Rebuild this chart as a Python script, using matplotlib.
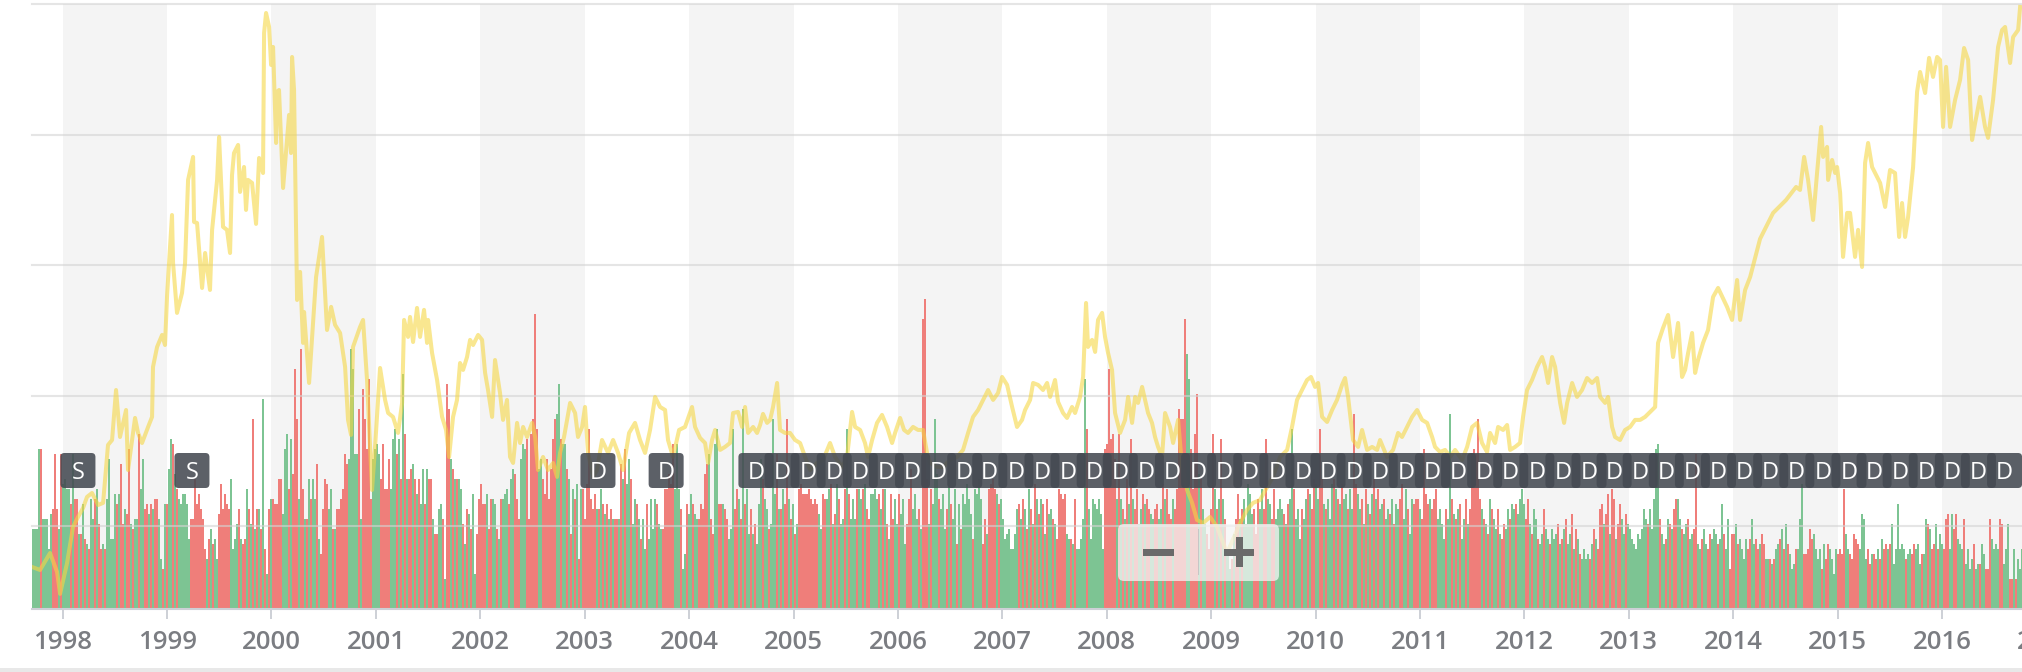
import matplotlib
matplotlib.use('Agg')
import matplotlib.pyplot as plt
from matplotlib.patches import FancyBboxPatch, Rectangle
from matplotlib.transforms import IdentityTransform

# weekly volume; negative = down week (red), positive = up week (green)
vol_1997_2000 = [16, 16, 16, 32, -32, 18, 18, 18, 12, 19,
                 -20, -31, -20, 16, -31, 25, 26, 24, 24, -21,
                 31, -22, -22, 15, -15, 21, -14, 13, -12, 22,
                 18, -22, 24, -17, -12, 13, -12, 22, 30, 14,
                 14, 23, -21, 23, -29, -17, 20, -19, -32, 17,
                 -16, 18, 18, -35, 24, 30, -20, -21, 19, -21,
                 20, -22, -22, 18, 10, -8, 21, -21, 28, 34,
                 -33, 27, -24, 22, 21, 23, 23, 21, 14, -18,
                 -18, -26, -21, -23, -20, -18, -12, 10, -14, 16,
                 -13, 14, 10, -19, -25, -20, -23, -21, -20, 26,
                 12, 14, 17, -20, 14, -13, -14, 24, -20, 17,
                 -38, 16, -20, 20, -16, 42, -12, 7, -20, 22,
                 -22, -21, -21, -26, -26, 19, 32, 35, -24, 34,
                 -27, -48, -38, 22, -52, -24, 18, -18, 26, -22,
                 26, 22, -29, 14, -11, -20, -26, -25, 20, 24,
                 -16, 16, -20, -20, -22, -24, -31, -29, 30, 52,
                 48, 31, 31, -40]
vol_2000_2004 = [18, -44, -38, -32, -46, -22, 30, 32, 33, 31,
                 -26, -33, -24, -24, -30, 24, 34, 36, -31, 34,
                 -26, 47, -35, 26, -26, -28, 29, -26, 23, -26,
                 21, 28, -21, 28, -26, -26, 18, -15, -15, 20,
                 21, -18, 6, -45, -40, 30, -28, 26, -26, 26,
                 24, -17, 13, -20, 19, -16, 23, 7, -15, -22,
                 -25, -21, -21, 23, -16, -22, 22, 21, -16, 14,
                 -22, 22, 23, 24, -21, 26, 28, -27, -22, -18,
                 30, 33, 32, -34, -18, -35, -38, -59, -36, 28,
                 30, -26, -23, -30, -22, -28, -34, -38, 39, 45,
                 -34, 33, 33, -28, 26, -15, 24, -22, 25, -10,
                 24, -24, -18, -25, -36, -22, -20, -23, 20, -20,
                 24, -21, 19, -21, 18, -20, 18, -18, -18, 18,
                 -29, 26, -32, 25, 30, -26, 17, 22, -21, 18,
                 -14, 18, 12, -21, 14, 22, 16, 22, -21, 17,
                 16, -16, -24, -24, -27, -25, -33, 24, 33, 24,
                 -20, 8, 11, -21, 19, 23, -21, 19, 18, -18]
vol_2004_2007 = [-21, -20, -27, -29, 31, -18, -15, 33, 36, -21,
                 -21, 21, -20, -18, 14, 16, 36, -20, -24, 22,
                 -18, 40, -21, 24, 15, -20, 15, -17, 13, 21,
                 30, -26, 22, 20, -16, 17, 38, 23, -31, 20,
                 -20, 24, -21, -38, 22, -18, 21, -15, 17, -24,
                 -25, -23, -23, -23, -24, -22, -21, -22, -21, 19,
                 16, -23, -22, 22, 24, -25, 17, -19, 25, -22,
                 17, 18, -24, 36, -23, 18, 22, 18, -24, 24,
                 22, -24, 25, -20, -18, 23, 23, 24, 22, -23,
                 20, -24, 24, -17, 14, -23, -18, 22, 17, -23,
                 19, 22, 13, -17, -22, -28, 20, 23, 18, -20,
                 16, -58, -62, -26, 17, -24, 21, 38, 27, -22,
                 20, 23, 16, -20, 26, -21, 18, 24, -13, 21,
                 -16, 23, 21, 25, 22, 19, -14, 24, 23, 26,
                 22, -13, -18, 15, -24, -25, -26, -24, 23, -21,
                 22, 18, 14, 15, 16, 12, 12, 15, 20, -21,
                 18, -22, 20, -16, 24, -20, 17, -25, 22, -19]
vol_2007_2010 = [22, -21, 15, -22, 19, 20, -18, 17, -14, -24,
                 -23, -22, -23, 15, 14, -14, 13, -22, 12, 12,
                 14, 18, 46, -36, 20, 14, 22, 21, 20, 22,
                 19, 12, -32, -33, -48, -34, -35, -30, 22, -35,
                 22, -20, 18, -26, 21, -34, 22, -20, -24, 17,
                 20, -23, 21, -22, -20, 19, 18, -20, -21, 18,
                 20, -25, 22, -24, -19, -18, 22, -20, -24, -40,
                 -38, -38, -58, 51, 46, -32, -24, -35, -43, 27,
                 -26, 20, 17, -15, -12, -20, -35, 24, -20, 22,
                 -34, 22, -18, 12, 8, -10, 15, -18, -23, 18,
                 -20, 22, 17, 25, 23, 19, -20, -15, -22, 20,
                 24, -20, -34, 22, 21, -18, -24, 18, 20, 22,
                 20, -19, 17, -21, 22, 36, -24, 18, 20, 14,
                 -20, 18, 22, -24, 23, -20, -26, 25, 22, -36,
                 -26, 21, -20, 22, 18, 25, -26, 24, -22, 21,
                 -25, 22, 23, -20, 24, 20, -39, -25, 23, 20,
                 -22, 17, -24, 21, -19, 23, -26, 22, -24, 20]
vol_2010_2014 = [21, -22, 18, 20, -19, 22, -17, 21, 20, -22,
                 -25, 18, 24, -20, 15, 22, -21, -22, -22, 20,
                 -18, -32, -23, -21, 22, -20, -22, -24, 18, 20,
                 17, 14, -20, 18, 39, -22, 19, -18, 20, -21,
                 14, 18, -22, 17, -20, -31, -32, -31, -38, -22,
                 20, -18, 17, -15, 22, -20, 18, 16, -20, 15,
                 -14, -17, 16, 20, -18, 21, 20, -21, 19, 22,
                 24, 21, -18, -22, 17, -15, 20, 18, -14, 13,
                 15, -20, 16, 14, -13, 16, 14, 15, -17, 13,
                 -14, 16, -18, 13, 15, -19, 12, -16, 14, -11,
                 10, 12, 10, 11, -10, 13, -16, 14, -12, -20,
                 -21, 17, -19, -23, 15, -24, -22, 14, -17, -21,
                 18, 15, -19, 17, 16, 14, 13, 12, 15, 14,
                 16, 20, 18, -17, 20, 16, 22, 32, 33, -18,
                 15, 13, -14, 18, -17, 16, -20, -22, 22, 18,
                 -16, 15, 17, -18, 14, 15, -16, -31, 13, 12,
                 -14, 16, 13, -12, -15, 14, 16, 15, -13, 14]
vol_2014_2016 = [21, -15, 12, 18, -8, -15, -15, 17, -13, 14,
                 12, 10, 14, -12, -14, 18, 13, -14, -12, 13,
                 -15, -13, 10, 10, -10, 9, -10, 12, 13, -14,
                 16, -12, 17, -13, 11, 8, 9, -12, 12, 18,
                 25, -11, -11, -12, -16, -14, 15, 12, 10, 12,
                 -8, 13, -10, -13, 12, 10, 7, 12, -11, -12,
                 -11, -24, 15, 12, -11, -10, -15, -14, -13, 12,
                 19, 18, 10, -12, -9, 11, -11, -10, 12, -10,
                 14, -12, -13, 12, -13, 17, 9, 12, 21, 12,
                 13, 12, -10, 11, 12, -11, -13, 12, 13, 9,
                 -11, 11, 18, -17, 16, -12, -13, 17, -12, 15,
                 13, -12, -18, -19, 12, 19, -16, -19, 14, 13,
                 12, -18, 9, 12, 8, 10, -13, 8, 9, -9,
                 13, 11, -8, -8, -18, 14, 12, 13, 12, -18,
                 -17, 9, 12, 17, -6, -6, 12, -6, 10, 8,
                 12]
first_week = 1997.7155  # date of the first weekly bar (decimal year)

# price (date as decimal year, close)
price_1997_2001 = [
    (1997.707, 6.86), (1997.783, 6.63), (1997.879, 7.93), (1997.946, 6.48), (1997.975, 4.8),
    (1998.042, 7.17), (1998.099, 9.93), (1998.147, 10.69), (1998.195, 11.38), (1998.233, 12.23),
    (1998.281, 12.53), (1998.339, 11.61), (1998.387, 11.77), (1998.434, 16.21), (1998.473, 16.59),
    (1998.511, 20.42), (1998.549, 16.82), (1998.607, 18.89), (1998.626, 14.29), (1998.693, 18.28),
    (1998.722, 17.13), (1998.760, 16.36), (1998.818, 17.59), (1998.856, 18.36), (1998.865, 22.19),
    (1998.904, 23.72), (1998.952, 24.64), (1998.980, 23.87), (1999.000, 27.70), (1999.047, 33.83),
    (1999.057, 30.16), (1999.095, 26.33), (1999.143, 27.86), (1999.172, 30.16), (1999.201, 36.52),
    (1999.249, 38.28), (1999.258, 33.30), (1999.287, 33.22), (1999.335, 28.24), (1999.364, 30.92),
    (1999.411, 28.09), (1999.431, 32.69), (1999.479, 36.52), (1999.498, 39.81), (1999.536, 32.92),
    (1999.574, 32.69), (1999.603, 30.92), (1999.622, 36.90), (1999.641, 38.58), (1999.680, 39.20),
    (1999.699, 35.60), (1999.737, 37.51), (1999.756, 34.22), (1999.775, 36.52), (1999.814, 36.29),
    (1999.852, 33.15), (1999.881, 38.20), (1999.919, 37.05), (1999.929, 47.78), (1999.948, 49.31),
    (1999.977, 48.24), (1999.996, 45.33), (2000.015, 46.71), (2000.044, 39.35), (2000.053, 43.26),
    (2000.072, 43.41), (2000.111, 35.90), (2000.149, 39.58), (2000.168, 41.50), (2000.187, 38.58),
    (2000.197, 45.94), (2000.216, 43.41), (2000.245, 27.32), (2000.274, 29.47), (2000.302, 24.03),
    (2000.312, 26.40), (2000.360, 20.96), (2000.427, 29.08), (2000.484, 32.15), (2000.532, 25.02),
    (2000.571, 26.79), (2000.609, 25.41), (2000.657, 24.79), (2000.705, 22.19), (2000.733, 18.13),
    (2000.762, 16.98), (2000.781, 23.72), (2000.848, 25.25), (2000.877, 25.79), (2000.915, 21.19),
    (2000.963, 12.76), (2000.992, 16.06),
]
price_2001_2005 = [
    (2001.040, 22.11), (2001.088, 19.66), (2001.117, 18.66), (2001.164, 18.36), (2001.212, 17.13),
    (2001.251, 19.43), (2001.270, 25.79), (2001.308, 24.49), (2001.327, 26.02), (2001.356, 24.10),
    (2001.394, 26.71), (2001.423, 24.49), (2001.461, 26.56), (2001.490, 24.03), (2001.500, 25.79),
    (2001.538, 23.26), (2001.586, 21.19), (2001.634, 18.36), (2001.672, 17.36), (2001.701, 15.29),
    (2001.739, 18.36), (2001.777, 19.66), (2001.806, 22.49), (2001.835, 21.96), (2001.873, 22.95),
    (2001.902, 24.26), (2001.931, 23.87), (2001.979, 24.64), (2002.017, 24.26), (2002.046, 21.73),
    (2002.074, 20.42), (2002.113, 18.36), (2002.141, 22.72), (2002.189, 20.19), (2002.218, 18.13),
    (2002.256, 19.66), (2002.285, 15.29), (2002.314, 14.83), (2002.352, 17.90), (2002.381, 16.36),
    (2002.410, 17.59), (2002.448, 16.82), (2002.496, 17.90), (2002.525, 16.82), (2002.553, 14.29),
    (2002.601, 15.29), (2002.649, 14.29), (2002.697, 14.83), (2002.735, 13.76), (2002.764, 15.60),
    (2002.802, 16.82), (2002.860, 19.43), (2002.908, 18.66), (2002.936, 16.82), (2002.975, 17.59),
    (2003.003, 19.12), (2003.032, 15.60), (2003.080, 13.76), (2003.118, 14.29), (2003.166, 16.59),
    (2003.224, 15.60), (2003.272, 16.59), (2003.320, 15.60), (2003.367, 14.29), (2003.425, 17.13),
    (2003.482, 17.90), (2003.530, 16.59), (2003.578, 15.60), (2003.626, 17.36), (2003.674, 19.89),
    (2003.722, 19.12), (2003.770, 18.89), (2003.798, 16.59), (2003.846, 15.29), (2003.904, 17.36),
    (2003.961, 17.59), (2004.028, 19.12), (2004.057, 17.59), (2004.105, 16.75), (2004.153, 16.36),
    (2004.182, 14.83), (2004.220, 16.59), (2004.249, 17.36), (2004.297, 15.83), (2004.344, 16.06),
    (2004.392, 16.36), (2004.421, 18.66), (2004.469, 18.74), (2004.507, 17.59), (2004.536, 19.12),
    (2004.565, 17.13), (2004.613, 17.59), (2004.651, 17.13), (2004.680, 17.74), (2004.708, 18.59),
    (2004.747, 17.90), (2004.776, 18.13), (2004.804, 19.12), (2004.843, 20.96), (2004.871, 17.36),
    (2004.919, 17.13), (2004.967, 17.13),
]
price_2005_2009 = [
    (2005.015, 16.59), (2005.063, 16.36), (2005.111, 15.29), (2005.159, 14.29), (2005.226, 14.83),
    (2005.283, 15.06), (2005.350, 16.36), (2005.398, 15.29), (2005.465, 14.52), (2005.513, 15.29),
    (2005.561, 18.74), (2005.590, 17.59), (2005.638, 17.36), (2005.685, 16.36), (2005.714, 15.29),
    (2005.753, 16.59), (2005.800, 17.90), (2005.848, 18.51), (2005.896, 17.59), (2005.944, 16.36),
    (2005.973, 17.13), (2006.021, 18.28), (2006.059, 17.36), (2006.097, 17.13), (2006.145, 17.59),
    (2006.193, 17.36), (2006.241, 17.36), (2006.279, 15.60), (2006.308, 14.83), (2006.375, 14.52),
    (2006.433, 14.52), (2006.500, 15.06), (2006.567, 15.29), (2006.624, 15.83), (2006.672, 17.13),
    (2006.720, 18.36), (2006.768, 18.89), (2006.816, 19.66), (2006.864, 20.42), (2006.912, 19.66),
    (2006.959, 20.19), (2006.998, 21.42), (2007.046, 20.81), (2007.094, 19.12), (2007.141, 17.59),
    (2007.189, 18.13), (2007.218, 18.89), (2007.266, 19.66), (2007.295, 20.96), (2007.343, 20.81),
    (2007.390, 20.42), (2007.429, 20.96), (2007.458, 19.89), (2007.505, 21.19), (2007.534, 19.51),
    (2007.582, 18.66), (2007.620, 18.28), (2007.668, 19.12), (2007.697, 18.66), (2007.745, 19.89),
    (2007.774, 21.42), (2007.802, 27.09), (2007.821, 23.72), (2007.860, 24.26), (2007.889, 23.34),
    (2007.917, 25.79), (2007.956, 26.33), (2007.984, 24.49), (2008.013, 23.26), (2008.051, 21.96),
    (2008.080, 18.66), (2008.128, 17.13), (2008.176, 18.13), (2008.205, 19.89), (2008.243, 17.90),
    (2008.272, 19.89), (2008.300, 19.43), (2008.339, 20.66), (2008.367, 19.66), (2008.396, 18.66),
    (2008.434, 17.90), (2008.463, 16.82), (2008.492, 16.06), (2008.530, 15.29), (2008.559, 18.66),
    (2008.607, 17.59), (2008.636, 16.36), (2008.684, 18.13), (2008.722, 14.52), (2008.770, 12.76),
    (2008.818, 11.77), (2008.865, 10.46), (2008.923, 10.23), (2008.990, 10.69),
]
price_2009_2013 = [
    (2009.057, 9.93), (2009.153, 7.93), (2009.277, 10.23), (2009.344, 11.23), (2009.402, 11.77),
    (2009.469, 11.99), (2009.536, 12.99), (2009.593, 13.76), (2009.661, 15.29), (2009.728, 15.83),
    (2009.775, 17.59), (2009.823, 19.66), (2009.871, 20.42), (2009.919, 21.19), (2009.957, 21.42),
    (2009.996, 20.66), (2010.025, 20.96), (2010.063, 18.36), (2010.111, 17.97), (2010.159, 18.89),
    (2010.206, 19.66), (2010.254, 20.81), (2010.283, 21.34), (2010.312, 19.89), (2010.360, 16.59),
    (2010.408, 16.06), (2010.446, 17.36), (2010.494, 15.83), (2010.542, 16.06), (2010.590, 15.83),
    (2010.618, 16.59), (2010.685, 15.29), (2010.743, 15.83), (2010.791, 17.13), (2010.829, 16.82),
    (2010.877, 17.59), (2010.925, 18.36), (2010.973, 18.89), (2011.021, 18.13), (2011.069, 17.90),
    (2011.117, 16.82), (2011.145, 16.06), (2011.193, 15.67), (2011.241, 15.83), (2011.289, 15.29),
    (2011.337, 15.83), (2011.404, 15.06), (2011.452, 16.06), (2011.500, 17.59), (2011.548, 17.90),
    (2011.595, 16.36), (2011.643, 15.67), (2011.672, 17.13), (2011.720, 16.36), (2011.749, 17.59),
    (2011.797, 17.36), (2011.835, 17.74), (2011.864, 15.83), (2011.912, 16.06), (2011.959, 16.36),
    (2011.988, 18.36), (2012.026, 20.42), (2012.074, 21.19), (2012.122, 22.19), (2012.170, 22.95),
    (2012.199, 22.19), (2012.228, 20.96), (2012.266, 22.95), (2012.295, 22.19), (2012.343, 19.43),
    (2012.381, 17.90), (2012.410, 19.43), (2012.458, 20.96), (2012.505, 19.89), (2012.553, 20.42),
    (2012.601, 21.34), (2012.649, 20.96), (2012.697, 21.34), (2012.726, 19.89), (2012.774, 19.43),
    (2012.802, 19.89), (2012.841, 17.59), (2012.869, 16.82), (2012.917, 16.59), (2012.965, 17.36),
]
price_2013_2016 = [
    (2013.013, 17.59), (2013.061, 18.13), (2013.109, 18.13), (2013.157, 18.36), (2013.205, 18.74),
    (2013.253, 19.12), (2013.281, 24.03), (2013.329, 25.18), (2013.377, 26.17), (2013.425, 22.95),
    (2013.473, 25.56), (2013.511, 21.42), (2013.540, 21.96), (2013.569, 23.26), (2013.607, 24.79),
    (2013.636, 21.73), (2013.664, 22.72), (2013.712, 24.03), (2013.760, 25.02), (2013.808, 27.55),
    (2013.856, 28.24), (2013.942, 26.79), (2013.990, 25.79), (2014.038, 28.85), (2014.067, 25.79),
    (2014.115, 28.09), (2014.163, 29.08), (2014.258, 32.00), (2014.383, 33.99), (2014.507, 34.98),
    (2014.603, 35.98), (2014.641, 35.75), (2014.680, 38.28), (2014.718, 36.52), (2014.766, 33.45),
    (2014.804, 37.05), (2014.843, 40.58), (2014.862, 38.28), (2014.900, 39.05), (2014.910, 36.52),
    (2014.948, 38.05), (2014.977, 37.05), (2014.996, 37.51), (2015.025, 35.52), (2015.053, 30.62),
    (2015.092, 33.99), (2015.120, 33.99), (2015.168, 30.62), (2015.197, 32.69), (2015.235, 29.85),
    (2015.264, 37.82), (2015.293, 39.35), (2015.331, 37.51), (2015.360, 37.05), (2015.408, 36.29),
    (2015.456, 34.45), (2015.503, 37.28), (2015.551, 37.05), (2015.590, 32.15), (2015.618, 34.75),
    (2015.647, 32.15), (2015.676, 33.68), (2015.724, 37.51), (2015.762, 43.26), (2015.791, 44.79),
    (2015.839, 43.18), (2015.877, 45.87), (2015.915, 44.41), (2015.954, 45.94), (2015.982, 45.71),
    (2016.011, 40.58), (2016.040, 45.18), (2016.078, 40.58), (2016.126, 42.65), (2016.174, 44.18),
    (2016.212, 46.63), (2016.251, 45.71), (2016.289, 39.58), (2016.318, 40.88), (2016.366, 42.88),
    (2016.413, 40.58), (2016.442, 39.74), (2016.490, 42.65), (2016.538, 46.71), (2016.576, 48.01),
    (2016.605, 48.24), (2016.653, 45.48), (2016.682, 47.47), (2016.730, 48.01), (2016.749, 49.77),
]

# event flags
split_dates = [1998.146, 1999.238]
dividend_dates = [2003.127, 2003.78,
                  2004.64, 2004.89, 2005.14, 2005.39, 2005.64, 2005.89, 2006.14, 2006.39,
                  2006.64, 2006.88, 2007.13, 2007.38, 2007.63, 2007.88, 2008.13, 2008.38,
                  2008.63, 2008.88, 2009.13, 2009.38, 2009.63, 2009.88, 2010.12, 2010.37,
                  2010.62, 2010.87, 2011.12, 2011.37, 2011.62, 2011.87, 2012.12, 2012.37,
                  2012.62, 2012.86, 2013.11, 2013.36, 2013.61, 2013.86, 2014.11, 2014.36,
                  2014.61, 2014.86, 2015.11, 2015.35, 2015.60, 2015.85, 2016.10, 2016.35,
                  2016.60]
years = list(range(1998, 2018))

W, H = 2022, 672
GREEN = '#7dc493'
RED = '#ef7e7a'
FONT = ['Open Sans', 'DejaVu Sans']

fig = plt.figure(figsize=(W / 100, H / 100), dpi=100)
fig.patch.set_facecolor('white')


def px_rect(x0, y0, x1, y1):
    # pixel box (top-left origin) -> figure fraction rect
    return [x0 / W, 1 - y1 / H, (x1 - x0) / W, (y1 - y0) / H]


ax = fig.add_axes(px_rect(32, 4, 2060, 609))
ax.set_facecolor('white')
ax.set_xlim(1997.706, 2017.131)

# alternating year bands
for yr in years[::2]:
    ax.axvspan(yr, yr + 1, color='#f4f4f4', lw=0, zorder=0)

# volume columns
volume = vol_1997_2000 + vol_2000_2004 + vol_2004_2007 + vol_2007_2010 + vol_2010_2014 + vol_2014_2016
week = 7 / 365.25
dates = [first_week + i * week for i in range(len(volume))]
ax.bar(dates, [abs(v) for v in volume], width=week,
       color=[GREEN if v > 0 else RED for v in volume], linewidth=0,
       antialiased=False, zorder=2)
ax.set_ylim(0, 121)

for s in ['top', 'left', 'right']:
    ax.spines[s].set_visible(False)
ax.spines['bottom'].set_color('#cdd0d6')
ax.spines['bottom'].set_linewidth(1.5)
ax.set_yticks([])
ax.set_xticks(years)
ax.set_xticklabels([str(y) for y in years])
ax.tick_params(axis='x', length=7.2, width=1.4, color='#cdd0d6', pad=8,
               labelsize=18.5, labelcolor='#7b7d82')
for lab in ax.get_xticklabels():
    lab.set_fontfamily(FONT)
    lab.set_fontweight('semibold')

# price on its own scale
ax2 = ax.twinx()
ax2.set_ylim(3.64, 50)
ax2.set_axis_off()
for g in [10, 20, 30, 40, 50]:
    ax2.axhline(g, color='#d4d4d4', alpha=0.6, lw=1.5, zorder=1, clip_on=False)
price = price_1997_2001 + price_2001_2005 + price_2005_2009 + price_2009_2013 + price_2013_2016
ax2.plot([p[0] for p in price], [p[1] for p in price], color='#f5d746', alpha=0.6,
         lw=2.9, solid_joinstyle='round', zorder=3)


def draw_flag(date, letter):
    cx = ax.transData.transform((date, 0))[0]
    box = FancyBboxPatch((cx - 17.5, H - 488), 35, 35,
                         boxstyle='round,pad=0,rounding_size=4',
                         transform=IdentityTransform(), fc=(0.27, 0.29, 0.32),
                         ec='none', alpha=0.88, zorder=10)
    fig.add_artist(box)
    fig.text(cx / W, 1 - 479 / H, letter, ha='center', va='baseline', color='white',
             fontsize=17, family=FONT, zorder=11)


for d in split_dates:
    draw_flag(d, 'S')
for d in dividend_dates:
    draw_flag(d, 'D')

# zoom buttons
fig.add_artist(FancyBboxPatch((1118, H - 581), 161, 57, boxstyle='round,pad=0,rounding_size=6',
                              transform=IdentityTransform(), fc='#f5f5f5', ec='none',
                              alpha=0.75, zorder=12))
fig.add_artist(Rectangle((1197.5, H - 575), 1.5, 46, transform=IdentityTransform(),
                         fc='#c6c6c6', ec='none', zorder=13))
for x0, y0, w, h in [(1143, H - 555.5, 31, 7), (1224, H - 555.5, 30, 7), (1235.5, H - 567, 7, 30)]:
    fig.add_artist(Rectangle((x0, y0), w, h, transform=IdentityTransform(),
                             fc='#6a6a6a', ec='none', zorder=13))

# navigator edge at the very bottom
fig.add_artist(Rectangle((0, 0), W, 4, transform=IdentityTransform(), fc='#e8e8e8', ec='none'))

fig.savefig('out.png', dpi=100, facecolor='white')
